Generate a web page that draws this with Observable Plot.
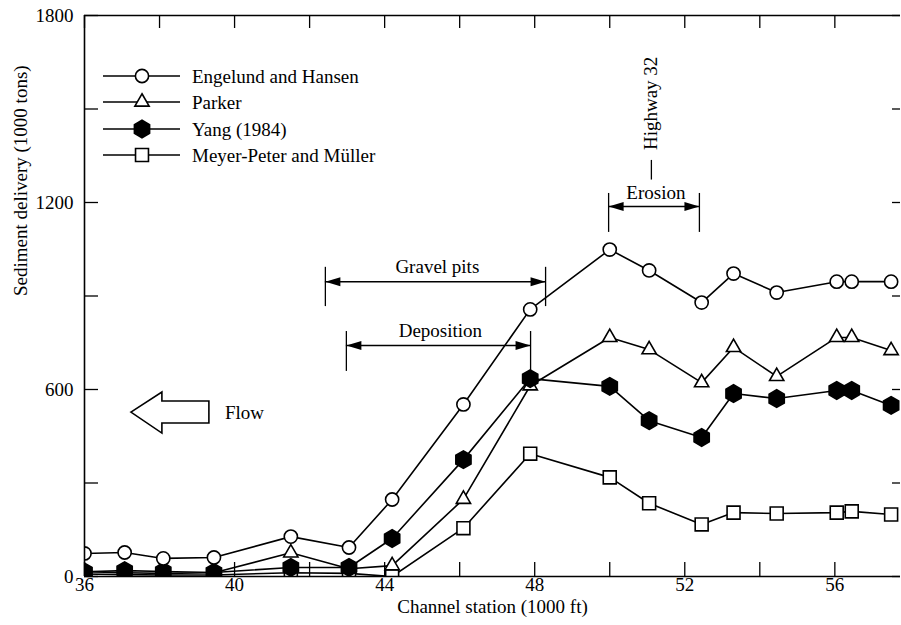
<!DOCTYPE html>
<html><head><meta charset="utf-8">
<script src="https://cdn.jsdelivr.net/npm/d3@7"></script>
<script src="https://cdn.jsdelivr.net/npm/@observablehq/plot@0.6"></script>
<style>
html,body{margin:0;padding:0;background:#fff;}
</style></head><body><div id="chart"></div>
<script>
// ---- data ----
const stations = [36.0, 37.07, 38.1, 39.45, 41.5, 43.05, 44.2, 46.1, 47.88, 50.0, 51.05, 52.45, 53.3, 54.45, 56.05, 56.45, 57.5];
const engelundHansen   = [74, 77, 58, 61, 128, 93, 247, 552, 857, 1049, 982, 879, 972, 911, 946, 946, 946];
const parker           = [15, 12, 10, 12, 76, 25, 35, 248, 612, 767, 728, 622, 735, 642, 767, 767, 725];
const yang             = [15, 19, 16, 13, 29, 29, 122, 375, 635, 610, 500, 446, 587, 571, 597, 597, 549];
const meyerPeterMuller = [8, 6, 5, 5, 12, 10, 0, 155, 394, 318, 235, 167, 205, 202, 205, 209, 199];
const seriesNames = ["Engelund and Hansen", "Parker", "Yang (1984)", "Meyer-Peter and Müller"];

const xTickLabels = [36, 40, 44, 48, 52, 56];
const xTicks = [36, 38, 40, 42, 44, 46, 48, 50, 52, 54, 56];
const yTickLabels = [0, 600, 1200, 1800];
const yTicks = [0, 300, 600, 900, 1200, 1500, 1800];
const xTitle = "Channel station (1000 ft)";
const yTitle = "Sediment delivery (1000 tons)";

// annotation spans (data units)
const spanLabels = ["Gravel pits", "Deposition", "Erosion"];
const spanStart = [42.42, 42.98, 49.97];
const spanEnd = [48.29, 47.89, 52.39];
const spanArrowY = [946, 741, 1187];
const spanBarTop = [992, 786, 1229];
const spanLeftBarBottom = [866, 658, 1104];
const spanRightBarBottom = [866, 635, 1104];
const spanLabelY = [994, 789, 1232];
const highwayLabel = "Highway 32";
const highwayX = 51.11;
const highwayLabelY = 1518;
const highwayTickY = [1335, 1272];
const flowLabel = "Flow";
const flowTip = [37.25, 526];

// ---- build ----
const FONT = "'Liberation Serif', 'Times New Roman', Times, serif";
const W = 901, H = 625, mL = 84, mR = 1, mT = 15, mB = 49;
const plotW = W - mL - mR, plotH = H - mT - mB;

const series = [engelundHansen, parker, yang, meyerPeterMuller];
const rows = series.map((vals, s) => vals.map((v, i) => ({x: stations[i], y: v, s})));

const sqrt4_3 = 2 / Math.sqrt(3);
function hexPath(ctx, r) {
  const rx = r, ry = rx * sqrt4_3, hy = ry / 2;
  ctx.moveTo(0, ry); ctx.lineTo(rx, hy); ctx.lineTo(rx, -hy);
  ctx.lineTo(0, -ry); ctx.lineTo(-rx, -hy); ctx.lineTo(-rx, hy); ctx.closePath();
}
const headLeft = {draw(ctx) { ctx.moveTo(0, 0); ctx.lineTo(15, -4.5); ctx.lineTo(15, 4.5); ctx.closePath(); }};
const headRight = {draw(ctx) { ctx.moveTo(0, 0); ctx.lineTo(-15, -4.5); ctx.lineTo(-15, 4.5); ctx.closePath(); }};

const markerSpec = [
  {symbol: "circle", r: 6.6, fill: "white"},
  {symbol: "triangle", r: 5.3, fill: "white"},
  {symbol: "hexagon", r: 7.6, fill: "black"},
  {symbol: "square", r: 7.3, fill: "white"}
];

const idx = spanLabels.map((_, i) => i);

const marks = [];
// inward ticks
marks.push(Plot.tickX(xTicks, {x: d => d, insetTop: plotH - 14, stroke: "black", strokeWidth: 1.3}));
marks.push(Plot.tickX(xTicks, {x: d => d, insetBottom: plotH - 13, stroke: "black", strokeWidth: 1.3}));
marks.push(Plot.tickY(yTicks, {y: d => d, insetRight: plotW - 14, stroke: "black", strokeWidth: 1.3}));
marks.push(Plot.tickY(yTicks, {y: d => d, insetLeft: plotW - 8, stroke: "black", strokeWidth: 1.3}));

// series
[3, 1, 2, 0].forEach(s => {
  marks.push(Plot.line(rows[s], {x: "x", y: "y", stroke: "black", strokeWidth: 1.6, clip: true}));
});
[3, 1, 2, 0].forEach(s => {
  const m = markerSpec[s];
  marks.push(Plot.dot(rows[s], {x: "x", y: "y", symbol: m.symbol, r: m.r, fill: m.fill, stroke: "black", strokeWidth: 1.6, clip: true}));
});

// frame (left, bottom, top)
marks.push(Plot.ruleX([36], {stroke: "black", strokeWidth: 1.6}));
marks.push(Plot.ruleY([0, 1800], {stroke: "black", strokeWidth: 1.6}));

// annotation spans
marks.push(Plot.ruleX(idx, {x: i => spanStart[i], y1: i => spanBarTop[i], y2: i => spanLeftBarBottom[i], stroke: "black", strokeWidth: 1.3}));
marks.push(Plot.ruleX(idx, {x: i => spanEnd[i], y1: i => spanBarTop[i], y2: i => spanRightBarBottom[i], stroke: "black", strokeWidth: 1.3}));
marks.push(Plot.ruleY(idx, {y: i => spanArrowY[i], x1: i => spanStart[i], x2: i => spanEnd[i], stroke: "black", strokeWidth: 1.5}));
marks.push(Plot.dot(idx, {x: i => spanStart[i], y: i => spanArrowY[i], symbol: headLeft, r: 3, fill: "black", stroke: "none"}));
marks.push(Plot.dot(idx, {x: i => spanEnd[i], y: i => spanArrowY[i], symbol: headRight, r: 3, fill: "black", stroke: "none"}));
marks.push(Plot.text(idx, {x: i => (spanStart[i] + spanEnd[i]) / 2 + 0.05, y: i => spanLabelY[i], text: i => spanLabels[i], fill: "black", fontSize: 19}));
// highway
marks.push(Plot.ruleX([highwayX], {x: d => d, y1: highwayTickY[0], y2: highwayTickY[1], stroke: "black", strokeWidth: 1.3}));
marks.push(Plot.text([highwayLabel], {x: highwayX, y: highwayLabelY, text: d => d, rotate: -90, fill: "black", fontSize: 19}));

// axis titles
marks.push(Plot.text([xTitle], {frameAnchor: "bottom", dy: 36, text: d => d, fill: "black", fontSize: 19}));
marks.push(Plot.text([yTitle], {frameAnchor: "left", dx: -64, rotate: -90, text: d => d, fill: "black", fontSize: 19}));

const fig = Plot.plot({
  width: W, height: H,
  marginLeft: mL, marginRight: mR, marginTop: mT, marginBottom: mB,
  style: {fontFamily: FONT, fontSize: "19px", color: "black", background: "white"},
  x: {domain: [36, 57.75], ticks: xTickLabels, tickSize: 0, tickPadding: 1, tickFormat: d => String(d), label: null},
  y: {domain: [0, 1800], ticks: yTickLabels, tickSize: 0, tickPadding: 11, tickFormat: d => String(d), label: null},
  marks
});
document.getElementById("chart").appendChild(fig);

// ---- legend & flow arrow (decorations positioned inside the frame) ----
const svg = d3.select(fig);
const xs = fig.scale("x"), ys = fig.scale("y");
const lg = svg.append("g").attr("font-family", FONT).attr("font-size", 19).attr("text-anchor", "start");
const rowY = [76, 102, 129, 155];
seriesNames.forEach((name, i) => {
  const y = rowY[i];
  lg.append("line").attr("x1", 103).attr("x2", 180).attr("y1", y).attr("y2", y)
    .attr("stroke", "black").attr("stroke-width", 1.6);
  const m = markerSpec[i];
  let d;
  if (m.symbol === "hexagon") { const p = d3.path(); hexPath(p, m.r); d = p.toString(); }
  else {
    const t = {circle: d3.symbolCircle, triangle: d3.symbolTriangle, square: d3.symbolSquare}[m.symbol];
    d = d3.symbol(t, Math.PI * m.r * m.r)();
  }
  lg.append("path").attr("d", d).attr("transform", `translate(142,${y})`)
    .attr("fill", m.fill).attr("stroke", "black").attr("stroke-width", 1.6);
  lg.append("text").attr("x", 192).attr("y", y).attr("dy", "0.35em").attr("fill", "black").text(name);
});

const fx = xs.apply(flowTip[0]), fy = ys.apply(flowTip[1]);
svg.append("path")
  .attr("d", "M0,0 L31,-20 L31,-11 L78,-11 L78,11 L31,11 L31,21 Z")
  .attr("transform", `translate(${fx},${fy})`)
  .attr("fill", "white").attr("stroke", "black").attr("stroke-width", 1.6).attr("stroke-linejoin", "miter");
svg.append("text").attr("x", fx + 94).attr("y", fy).attr("dy", "0.35em").attr("text-anchor", "start")
  .attr("font-family", FONT).attr("font-size", 19).attr("fill", "black").text(flowLabel);
</script>
</body></html>
